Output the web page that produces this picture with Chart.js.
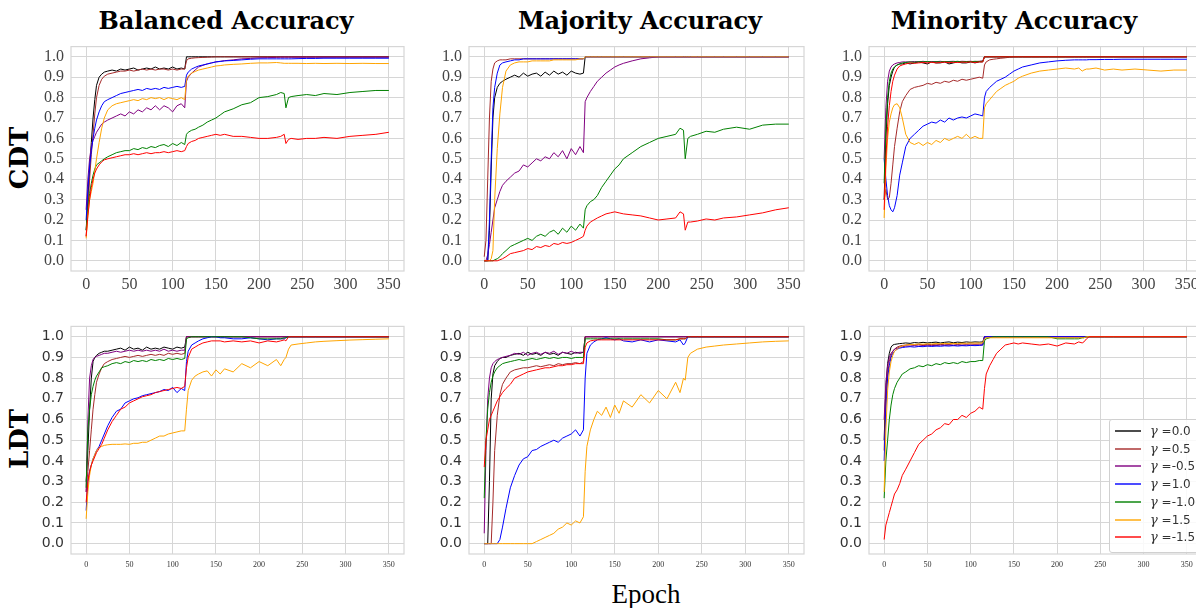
<!DOCTYPE html>
<html>
<head>
<meta charset="utf-8">
<script src="https://cdn.jsdelivr.net/npm/chart.js@4.4.0/dist/chart.umd.min.js"></script>
<style>
  html, body { margin: 0; padding: 0; background: #fff; }
  body { width: 1196px; height: 608px; position: relative; overflow: hidden; }
  canvas { position: absolute; }
  .title { position: absolute; top: 9px; width: 320px; text-align: center; font: bold 24px 'DejaVu Serif', serif; color: #000; line-height: 24px; white-space: nowrap; }
  .rowlab { position: absolute; width: 120px; text-align: center; font: bold 26px 'DejaVu Serif', serif; line-height: 26px; transform: rotate(-90deg); }
  .xlab { position: absolute; left: 546px; top: 581px; width: 200px; text-align: center; font: 27px 'Liberation Serif', serif; line-height: 27px; }
  #legend { position: absolute; left: 1109px; top: 419px; width: 100px; height: 132px; background: rgba(255,255,255,0.85); border: 1px solid #d0d0d0; border-radius: 3px; }
  #legend .item { position: absolute; left: 5px; height: 18px; width: 95px; }
  #legend .swatch { position: absolute; left: 0; top: 8px; width: 26px; height: 2px; opacity: 0.7; }
  #legend .txt { position: absolute; left: 35px; top: 1px; font: 12px 'DejaVu Sans', sans-serif; color: #333; white-space: nowrap; }
  #legend .txt i { font: italic 13px 'DejaVu Serif', serif; }
</style>
</head>
<body>
<div class="title" style="left:66px">Balanced Accuracy</div>
<div class="title" style="left:480px">Majority Accuracy</div>
<div class="title" style="left:854px">Minority Accuracy</div>
<div class="rowlab" style="left:-41px; top:145px">CDT</div>
<div class="rowlab" style="left:-41px; top:426px">LDT</div>
<div class="xlab">Epoch</div>

<canvas id="c1"></canvas>
<canvas id="c2"></canvas>
<canvas id="c3"></canvas>
<canvas id="c4"></canvas>
<canvas id="c5"></canvas>
<canvas id="c6"></canvas>
<div id="legend"></div>

<script>
const EPOCHS = [0, 2, 4, 6, 8, 10, 12, 15, 18, 21,
  25, 30, 35, 40, 45, 50, 55, 60, 65, 70, 75, 80, 85, 90, 95, 100, 105, 110, 114,
  116, 118, 122, 126, 130, 135, 140, 145, 150, 155, 160, 170, 180, 190, 200, 210, 220, 225, 229, 231,
  234, 237, 245, 255, 265, 275, 290, 305, 320, 335, 350];

const GAMMAS = ['0.0', '0.5', '-0.5', '1.0', '-1.0', '1.5', '-1.5'];
const COLORS = ['#000000', '#a52a2a', '#800080', '#0000ff', '#008000', '#ffa500', '#ff0000'];
const X_TICKS = [0, 50, 100, 150, 200, 250, 300, 350];
const Y_TICKS = [0, 0.1, 0.2, 0.3, 0.4, 0.5, 0.6, 0.7, 0.8, 0.9, 1.0];

// rows follow GAMMAS order
const cdtBalanced = [
  [0.15,0.30,0.45,0.58,0.70,0.79,0.86,0.90,0.915,0.925, 0.93,0.935,0.93,0.94,0.935,0.94,0.945,0.935,0.94,0.945,0.94,0.95,0.94,0.945,0.94,0.95,0.94,0.945,0.94,
   1,1,1,1,1,1,1,1,1,1, 1,1,1,1,1,1,1,1,1,1, 1,1,1,1,1,1,1,1,1,1, 1],
  [0.12,0.25,0.40,0.52,0.62,0.72,0.80,0.86,0.89,0.905, 0.915,0.92,0.925,0.93,0.93,0.935,0.93,0.935,0.94,0.935,0.94,0.935,0.94,0.94,0.935,0.94,0.935,0.94,0.94,
   0.98,0.99,0.993,0.995,0.996,0.997,0.998,0.999,1,1, 1,1,1,1,1,1,1,1,1,1, 1,1,1,1,1,1,1,1,1,1, 1],
  [0.25,0.40,0.50,0.56,0.59,0.61,0.63,0.65,0.67,0.68, 0.69,0.70,0.71,0.72,0.71,0.73,0.72,0.74,0.73,0.75,0.74,0.76,0.74,0.76,0.75,0.73,0.76,0.77,0.75,
   0.88,0.90,0.92,0.935,0.95,0.958,0.965,0.97,0.975,0.978, 0.981,0.985,0.99,0.992,0.995,0.996,0.997,0.998,0.998,0.998, 0.998,0.998,0.998,0.998,0.998,0.998,0.998,0.998,0.998,0.998, 0.998],
  [0.20,0.35,0.46,0.54,0.60,0.65,0.69,0.73,0.76,0.78, 0.79,0.80,0.81,0.82,0.825,0.83,0.835,0.84,0.835,0.845,0.84,0.845,0.84,0.85,0.845,0.85,0.855,0.85,0.855,
   0.91,0.925,0.94,0.948,0.955,0.96,0.965,0.97,0.975,0.977, 0.98,0.982,0.985,0.988,0.99,0.99,0.99,0.99,0.99,0.99, 0.99,0.99,0.991,0.992,0.992,0.993,0.993,0.993,0.993,0.993, 0.993],
  [0.15,0.25,0.33,0.38,0.42,0.45,0.47,0.48,0.49,0.50, 0.51,0.52,0.53,0.535,0.54,0.54,0.55,0.545,0.555,0.55,0.56,0.555,0.565,0.57,0.56,0.575,0.565,0.58,0.57,
   0.62,0.63,0.64,0.645,0.655,0.665,0.68,0.69,0.70,0.715, 0.73,0.745,0.765,0.775,0.80,0.805,0.815,0.825,0.82,0.75, 0.80,0.805,0.81,0.815,0.81,0.82,0.815,0.825,0.83,0.835, 0.835],
  [0.11,0.22,0.30,0.34,0.38,0.44,0.50,0.58,0.65,0.70, 0.74,0.76,0.77,0.775,0.78,0.785,0.79,0.785,0.795,0.79,0.80,0.795,0.80,0.79,0.80,0.795,0.79,0.80,0.79,
   0.89,0.905,0.92,0.928,0.935,0.94,0.945,0.95,0.955,0.957, 0.96,0.963,0.965,0.968,0.97,0.97,0.972,0.97,0.968,0.968, 0.968,0.968,0.968,0.967,0.968,0.967,0.968,0.967,0.968,0.967, 0.967],
  [0.12,0.22,0.30,0.36,0.40,0.43,0.45,0.47,0.485,0.495, 0.50,0.505,0.51,0.515,0.52,0.52,0.525,0.52,0.525,0.53,0.525,0.53,0.53,0.535,0.53,0.535,0.54,0.535,0.54,
   0.56,0.575,0.585,0.59,0.60,0.605,0.61,0.615,0.62,0.615, 0.62,0.61,0.61,0.605,0.60,0.60,0.605,0.61,0.62,0.575, 0.595,0.60,0.595,0.60,0.60,0.605,0.60,0.61,0.615,0.62, 0.63]
];

const cdtMajority = [
  [0,0,0,0.15,0.45,0.70,0.80,0.85,0.87,0.88, 0.89,0.90,0.91,0.90,0.92,0.905,0.915,0.92,0.905,0.925,0.91,0.93,0.915,0.925,0.91,0.93,0.92,0.915,0.92,
   1,1,1,1,1,1,1,1,1,1, 1,1,1,1,1,1,1,1,1,1, 1,1,1,1,1,1,1,1,1,1, 1],
  [0.02,0.10,0.40,0.70,0.88,0.94,0.97,0.98,0.985,0.985, 0.985,0.99,0.99,0.99,0.99,0.99,0.99,0.99,0.99,0.99,0.99,0.99,0.99,0.99,0.99,0.99,0.99,0.99,0.99,
   1,1,1,1,1,1,1,1,1,1, 1,1,1,1,1,1,1,1,1,1, 1,1,1,1,1,1,1,1,1,1, 1],
  [0,0,0.03,0.08,0.14,0.20,0.26,0.30,0.34,0.37, 0.39,0.41,0.43,0.44,0.47,0.46,0.48,0.50,0.49,0.51,0.50,0.53,0.51,0.54,0.50,0.55,0.52,0.56,0.53,
   0.78,0.80,0.83,0.855,0.88,0.90,0.92,0.935,0.95,0.96, 0.968,0.98,0.99,0.995,1,1,1,1,1,1, 1,1,1,1,1,1,1,1,1,1, 1],
  [0,0,0,0.20,0.50,0.75,0.85,0.92,0.96,0.97, 0.975,0.98,0.985,0.985,0.99,0.99,0.99,0.99,0.99,0.99,0.99,0.99,0.99,0.99,0.99,0.99,0.99,0.99,0.99,
   1,1,1,1,1,1,1,1,1,1, 1,1,1,1,1,1,1,1,1,1, 1,1,1,1,1,1,1,1,1,1, 1],
  [0,0,0,0,0,0,0.005,0.01,0.02,0.035, 0.05,0.07,0.08,0.09,0.10,0.11,0.10,0.12,0.13,0.12,0.14,0.15,0.13,0.16,0.14,0.17,0.15,0.18,0.16,
   0.25,0.27,0.29,0.30,0.32,0.36,0.39,0.42,0.45,0.47, 0.50,0.53,0.56,0.58,0.60,0.61,0.62,0.65,0.64,0.50, 0.60,0.61,0.62,0.635,0.63,0.645,0.655,0.645,0.665,0.67, 0.67],
  [0,0,0,0,0.01,0.05,0.30,0.55,0.72,0.85, 0.93,0.96,0.97,0.975,0.975,0.975,0.98,0.98,0.98,0.98,0.98,0.985,0.985,0.985,0.985,0.985,0.985,0.99,0.99,
   1,1,1,1,1,1,1,1,1,1, 1,1,1,1,1,1,1,1,1,1, 1,1,1,1,1,1,1,1,1,1, 1],
  [0,0,0,0,0,0,0,0,0.005,0.01, 0.02,0.035,0.04,0.045,0.05,0.06,0.055,0.07,0.065,0.075,0.07,0.085,0.08,0.09,0.085,0.09,0.10,0.11,0.12,
   0.15,0.17,0.19,0.20,0.21,0.22,0.23,0.235,0.24,0.235, 0.23,0.225,0.22,0.21,0.20,0.205,0.21,0.24,0.23,0.15, 0.19,0.19,0.195,0.205,0.20,0.21,0.215,0.225,0.235,0.25, 0.26]
];

const cdtMinority = [
  [0.30,0.60,0.77,0.86,0.90,0.93,0.95,0.96,0.965,0.965, 0.97,0.965,0.97,0.975,0.97,0.965,0.975,0.97,0.97,0.975,0.965,0.97,0.975,0.97,0.97,0.975,0.97,0.975,0.975,
   1,1,1,1,1,1,1,1,1,1, 1,1,1,1,1,1,1,1,1,1, 1,1,1,1,1,1,1,1,1,1, 1],
  [0.30,0.35,0.30,0.31,0.38,0.47,0.56,0.65,0.73,0.78, 0.81,0.84,0.85,0.855,0.86,0.87,0.865,0.875,0.87,0.88,0.875,0.885,0.88,0.89,0.885,0.89,0.895,0.90,0.895,
   0.96,0.975,0.985,0.988,0.99,0.993,0.995,0.998,1,1, 1,1,1,1,1,1,1,1,1,1, 1,1,1,1,1,1,1,1,1,1, 1],
  [0.50,0.75,0.88,0.93,0.95,0.96,0.965,0.97,0.972,0.975, 0.975,0.975,0.977,0.975,0.978,0.975,0.977,0.976,0.978,0.975,0.977,0.978,0.976,0.978,0.977,0.978,0.976,0.978,0.98,
   1,1,1,1,1,1,1,1,1,1, 1,1,1,1,1,1,1,1,1,1, 1,1,1,1,1,1,1,1,1,1, 1],
  [0.50,0.40,0.32,0.27,0.25,0.24,0.26,0.32,0.42,0.48, 0.56,0.60,0.62,0.64,0.66,0.67,0.68,0.675,0.69,0.68,0.70,0.69,0.70,0.705,0.70,0.71,0.72,0.715,0.71,
   0.80,0.83,0.85,0.865,0.88,0.89,0.90,0.915,0.93,0.94, 0.95,0.96,0.97,0.975,0.98,0.983,0.985,0.985,0.985,0.985, 0.985,0.986,0.986,0.987,0.987,0.988,0.988,0.988,0.988,0.988, 0.988],
  [0.38,0.65,0.80,0.88,0.92,0.94,0.95,0.96,0.965,0.97, 0.972,0.975,0.973,0.976,0.975,0.977,0.974,0.976,0.975,0.977,0.975,0.976,0.978,0.975,0.977,0.976,0.978,0.977,0.978,
   1,1,1,1,1,1,1,1,1,1, 1,1,1,1,1,1,1,1,1,1, 1,1,1,1,1,1,1,1,1,1, 1],
  [0.21,0.45,0.60,0.68,0.72,0.75,0.765,0.77,0.75,0.70, 0.62,0.58,0.57,0.58,0.565,0.58,0.57,0.59,0.58,0.60,0.59,0.60,0.61,0.60,0.62,0.60,0.61,0.60,0.60,
   0.75,0.77,0.79,0.81,0.83,0.845,0.86,0.87,0.88,0.895, 0.905,0.92,0.93,0.935,0.94,0.945,0.94,0.945,0.93,0.935, 0.94,0.94,0.945,0.935,0.94,0.935,0.94,0.935,0.93,0.935, 0.935],
  [0.25,0.50,0.66,0.76,0.83,0.88,0.91,0.94,0.955,0.96, 0.965,0.97,0.968,0.97,0.972,0.97,0.973,0.97,0.972,0.974,0.971,0.973,0.972,0.974,0.973,0.975,0.972,0.975,0.975,
   1,1,1,1,1,1,1,1,1,1, 1,1,1,1,1,1,1,1,1,1, 1,1,1,1,1,1,1,1,1,1, 1]
];

const ldtBalanced = [
  [0.30,0.45,0.65,0.80,0.88,0.90,0.91,0.92,0.925,0.93, 0.93,0.935,0.94,0.945,0.935,0.95,0.94,0.945,0.935,0.95,0.94,0.945,0.94,0.95,0.945,0.94,0.95,0.945,0.95,
   1,1,1,1,1,1,1,1,1,1, 1,1,1,1,1,1,1,1,1,1, 1,1,1,1,1,1,1,1,1,1, 1],
  [0.25,0.35,0.45,0.55,0.65,0.72,0.78,0.82,0.85,0.87, 0.88,0.89,0.895,0.90,0.905,0.90,0.905,0.91,0.905,0.91,0.915,0.91,0.915,0.91,0.92,0.915,0.92,0.915,0.92,
   1,1,1,1,1,1,1,1,1,1, 1,1,1,1,1,1,1,1,1,1, 1,1,1,1,1,1,1,1,1,1, 1],
  [0.25,0.60,0.80,0.86,0.89,0.90,0.905,0.91,0.915,0.92, 0.92,0.925,0.93,0.925,0.93,0.935,0.93,0.935,0.93,0.935,0.93,0.935,0.93,0.94,0.93,0.935,0.93,0.935,0.935,
   1,1,1,1,1,1,1,1,1,1, 1,1,1,1,1,1,1,1,1,1, 1,1,1,1,1,1,1,1,1,1, 1],
  [0.16,0.30,0.35,0.38,0.41,0.43,0.45,0.47,0.50,0.53, 0.57,0.61,0.64,0.65,0.68,0.69,0.70,0.705,0.715,0.72,0.725,0.73,0.735,0.745,0.74,0.755,0.73,0.75,0.74,
   0.88,0.93,0.96,0.97,0.98,0.99,0.995,1,1,0.995, 0.995,0.99,0.99,0.995,0.99,0.985,0.99,0.99,0.99,0.995, 1,1,1,1,1,1,1,1,1,1, 1],
  [0.27,0.55,0.65,0.72,0.76,0.79,0.81,0.83,0.85,0.855, 0.86,0.87,0.875,0.87,0.88,0.875,0.885,0.88,0.885,0.88,0.89,0.885,0.89,0.885,0.895,0.89,0.895,0.89,0.895,
   0.99,0.995,1,1,1,1,1,1,1,1, 1,1,1,0.995,0.99,0.99,0.99,0.99,0.995,0.995, 1,1,1,1,1,1,1,1,1,1, 1],
  [0.12,0.25,0.33,0.38,0.41,0.43,0.45,0.465,0.47,0.475, 0.478,0.48,0.48,0.48,0.482,0.48,0.485,0.485,0.49,0.49,0.50,0.51,0.52,0.52,0.53,0.535,0.54,0.545,0.545,
   0.65,0.74,0.79,0.81,0.82,0.83,0.835,0.81,0.84,0.82, 0.845,0.83,0.87,0.85,0.88,0.86,0.89,0.86,0.89,0.90, 0.94,0.96,0.965,0.97,0.975,0.978,0.981,0.984,0.986,0.988, 0.99],
  [0.20,0.30,0.35,0.38,0.40,0.42,0.44,0.46,0.48,0.51, 0.55,0.59,0.62,0.65,0.66,0.68,0.69,0.70,0.71,0.715,0.72,0.73,0.735,0.74,0.745,0.75,0.755,0.75,0.76,
   0.85,0.90,0.94,0.95,0.96,0.97,0.975,0.98,0.98,0.98, 0.975,0.98,0.975,0.98,0.97,0.98,0.975,0.98,0.985,0.98, 1,1,1,1,1,1,1,1,1,1, 1]
];

const ldtMajority = [
  [0,0,0,0.30,0.70,0.82,0.86,0.88,0.895,0.90, 0.90,0.91,0.915,0.92,0.91,0.925,0.915,0.92,0.91,0.925,0.915,0.92,0.91,0.925,0.92,0.915,0.925,0.92,0.925,
   1,1,1,1,1,1,1,1,1,1, 1,1,1,1,1,1,1,1,1,1, 1,1,1,1,1,1,1,1,1,1, 1],
  [0,0,0,0,0,0.20,0.45,0.62,0.72,0.77, 0.80,0.83,0.84,0.845,0.85,0.85,0.855,0.86,0.855,0.86,0.865,0.86,0.87,0.865,0.87,0.87,0.875,0.87,0.88,
   1,1,1,1,1,1,1,1,1,1, 1,1,1,1,1,1,1,1,1,1, 1,1,1,1,1,1,1,1,1,1, 1],
  [0.05,0.45,0.70,0.80,0.85,0.87,0.88,0.89,0.895,0.90, 0.905,0.91,0.92,0.915,0.925,0.91,0.92,0.925,0.915,0.925,0.92,0.93,0.915,0.925,0.92,0.93,0.92,0.925,0.925,
   1,1,1,1,1,1,1,1,1,1, 1,1,1,1,1,1,1,1,1,1, 1,1,1,1,1,1,1,1,1,1, 1],
  [0,0,0,0,0,0,0,0,0.02,0.08, 0.17,0.27,0.33,0.38,0.41,0.42,0.45,0.455,0.47,0.48,0.49,0.50,0.49,0.51,0.52,0.53,0.55,0.52,0.55,
   0.80,0.92,0.96,0.975,0.985,0.99,0.995,0.99,0.985,0.99, 0.98,0.975,0.985,0.975,0.985,0.98,0.975,0.985,0.96,0.97, 1,1,1,1,1,1,1,1,1,1, 1],
  [0.22,0.50,0.65,0.73,0.78,0.81,0.83,0.85,0.86,0.87, 0.875,0.88,0.885,0.89,0.885,0.89,0.895,0.89,0.895,0.90,0.895,0.90,0.895,0.90,0.90,0.895,0.90,0.90,0.90,
   0.99,0.99,0.99,0.99,0.99,0.99,0.99,0.99,0.99,0.99, 0.99,0.99,0.99,0.99,0.99,0.985,0.985,0.99,0.99,0.99, 1,1,1,1,1,1,1,1,1,1, 1],
  [0,0,0,0,0,0,0,0,0,0, 0,0,0,0,0,0,0,0.01,0.02,0.03,0.04,0.05,0.07,0.08,0.10,0.09,0.11,0.10,0.13,
   0.35,0.47,0.55,0.60,0.64,0.62,0.66,0.61,0.67,0.63, 0.69,0.66,0.72,0.68,0.74,0.70,0.78,0.73,0.80,0.79, 0.90,0.92,0.94,0.95,0.955,0.96,0.965,0.97,0.975,0.978, 0.98],
  [0.37,0.50,0.55,0.60,0.62,0.64,0.66,0.69,0.71,0.73, 0.75,0.77,0.80,0.81,0.82,0.83,0.835,0.84,0.845,0.85,0.85,0.855,0.86,0.86,0.865,0.865,0.87,0.87,0.87,
   0.95,0.97,0.98,0.983,0.985,0.985,0.985,0.985,0.985,0.985, 0.985,0.985,0.985,0.985,0.985,0.985,0.985,0.99,0.99,0.99, 1,1,1,1,1,1,1,1,1,1, 1]
];

const ldtMinority = [
  [0.50,0.75,0.87,0.92,0.95,0.96,0.963,0.965,0.967,0.968, 0.97,0.968,0.972,0.97,0.973,0.97,0.972,0.974,0.97,0.973,0.975,0.971,0.974,0.972,0.975,0.973,0.975,0.974,0.975,
   1,1,1,1,1,1,1,1,1,1, 1,1,1,1,1,1,1,1,1,1, 1,1,1,1,1,1,1,1,1,1, 1],
  [0.45,0.70,0.82,0.88,0.91,0.93,0.94,0.95,0.955,0.958, 0.96,0.962,0.96,0.963,0.961,0.963,0.962,0.964,0.962,0.964,0.963,0.965,0.963,0.965,0.964,0.965,0.964,0.965,0.965,
   1,1,1,1,1,1,1,1,1,1, 1,1,1,1,1,1,1,1,1,1, 1,1,1,1,1,1,1,1,1,1, 1],
  [0.60,0.78,0.86,0.90,0.92,0.93,0.94,0.945,0.95,0.952, 0.955,0.955,0.957,0.955,0.958,0.956,0.958,0.957,0.96,0.958,0.96,0.957,0.96,0.958,0.96,0.959,0.96,0.96,0.96,
   1,1,1,1,1,1,1,1,1,1, 1,1,1,1,1,1,1,1,1,1, 1,1,1,1,1,1,1,1,1,1, 1],
  [0.40,0.65,0.80,0.86,0.90,0.92,0.93,0.94,0.945,0.948, 0.95,0.952,0.95,0.953,0.952,0.955,0.953,0.955,0.954,0.956,0.955,0.957,0.955,0.957,0.956,0.958,0.957,0.958,0.96,
   1,1,1,1,1,1,1,1,1,1, 1,1,1,1,1,1,1,1,1,1, 1,1,1,1,1,1,1,1,1,1, 1],
  [0.22,0.40,0.50,0.60,0.67,0.72,0.75,0.78,0.80,0.82, 0.83,0.845,0.85,0.86,0.855,0.865,0.86,0.87,0.865,0.875,0.87,0.875,0.87,0.88,0.875,0.88,0.88,0.885,0.885,
   0.98,0.99,0.995,1,1,1,1,1,1,1, 1,1,1,1,0.99,0.99,0.99,0.99,0.995,0.995, 1,1,1,1,1,1,1,1,1,1, 1],
  [0.25,0.55,0.74,0.83,0.88,0.91,0.93,0.94,0.95,0.955, 0.96,0.962,0.963,0.965,0.964,0.966,0.965,0.967,0.966,0.968,0.967,0.968,0.967,0.969,0.968,0.97,0.969,0.97,0.97,
   0.99,0.995,0.995,0.995,0.995,0.995,0.995,0.995,0.995,0.995, 0.995,0.995,0.995,0.995,0.995,0.995,0.995,0.995,0.995,0.995, 1,1,1,1,1,1,1,1,1,1, 1],
  [0.02,0.09,0.12,0.15,0.18,0.21,0.24,0.26,0.29,0.33, 0.36,0.40,0.44,0.48,0.50,0.52,0.53,0.55,0.56,0.58,0.575,0.60,0.60,0.62,0.61,0.63,0.64,0.66,0.65,
   0.75,0.82,0.86,0.89,0.92,0.94,0.96,0.965,0.97,0.965, 0.97,0.965,0.96,0.965,0.955,0.97,0.965,0.975,0.97,0.975, 0.99,1,1,1,1,1,1,1,1,1, 1]
];

const GRID = '#d6d6d6';
const Y_AXIS_W = 62;
const X_AXIS_H = 26;
const PAD_TOP = 12;
const PAD_RIGHT = 6;

// plot-area box of each panel on the page: [left, top, right, bottom]
const panels = [
  { id: 'c1', series: cdtBalanced, box: [71, 42, 404, 271], row: 0 },
  { id: 'c2', series: cdtMajority, box: [469, 42, 804, 271], row: 0 },
  { id: 'c3', series: cdtMinority, box: [869, 42, 1202, 271], row: 0 },
  { id: 'c4', series: ldtBalanced, box: [71, 323, 404, 554], row: 1 },
  { id: 'c5', series: ldtMajority, box: [469, 323, 804, 554], row: 1 },
  { id: 'c6', series: ldtMinority, box: [869, 323, 1202, 554], row: 1 }
];

// top row uses serif ticks, bottom row sans y ticks and tiny serif x ticks
const tickStyle = [
  { x: { family: 'Liberation Serif', size: 16 }, y: { family: 'Liberation Serif', size: 16 }, color: '#444', xPad: 4 },
  { x: { family: 'Liberation Serif', size: 8 }, y: { family: 'DejaVu Sans', size: 14 }, color: '#333', xPad: 6 }
];

const framePlugin = {
  id: 'frame',
  beforeDatasetsDraw(chart) {
    const { ctx, chartArea: a } = chart;
    ctx.save();
    ctx.strokeStyle = GRID;
    ctx.lineWidth = 1.2;
    ctx.strokeRect(a.left, a.top, a.right - a.left, a.bottom - a.top);
    ctx.restore();
  }
};

const makePanel = (p) => {
  const [l, t, r, b] = p.box;
  const canvas = document.getElementById(p.id);
  const w = r - l + Y_AXIS_W + PAD_RIGHT;
  const h = b - t + PAD_TOP + X_AXIS_H;
  canvas.width = w;
  canvas.height = h;
  canvas.style.left = (l - Y_AXIS_W) + 'px';
  canvas.style.top = (t - PAD_TOP) + 'px';
  canvas.style.width = w + 'px';
  canvas.style.height = h + 'px';
  const st = tickStyle[p.row];

  return new Chart(canvas.getContext('2d'), {
    type: 'line',
    data: {
      datasets: p.series.map((vals, i) => ({
        label: 'γ =' + GAMMAS[i],
        data: vals.map((v, k) => ({ x: EPOCHS[k], y: v })),
        borderColor: COLORS[i],
        borderWidth: 1,
        pointRadius: 0,
        tension: 0,
        fill: false,
        order: p.series.length - i
      }))
    },
    options: {
      responsive: false,
      animation: false,
      devicePixelRatio: 1,
      layout: { padding: { top: PAD_TOP, right: PAD_RIGHT, left: 0, bottom: 0 } },
      plugins: { legend: { display: false }, tooltip: { enabled: false } },
      scales: {
        x: {
          type: 'linear',
          min: -17.5,
          max: 367.5,
          afterBuildTicks: (s) => { s.ticks = X_TICKS.map(v => ({ value: v })); },
          afterFit: (s) => { s.height = X_AXIS_H; },
          grid: { color: GRID, lineWidth: 1, drawTicks: false },
          border: { display: false },
          ticks: { font: st.x, color: st.color, padding: st.xPad, maxRotation: 0, autoSkip: false }
        },
        y: {
          min: -0.05,
          max: 1.05,
          afterBuildTicks: (s) => { s.ticks = Y_TICKS.map(v => ({ value: v })); },
          afterFit: (s) => { s.width = Y_AXIS_W; },
          grid: { color: GRID, lineWidth: 1, drawTicks: false },
          border: { display: false },
          ticks: { font: st.y, color: st.color, padding: 7, callback: (v) => v.toFixed(1) }
        }
      }
    },
    plugins: [framePlugin]
  });
};

panels.forEach(makePanel);

// legend sits inside the bottom-right panel
const legend = document.getElementById('legend');
GAMMAS.forEach((g, i) => {
  const item = document.createElement('div');
  item.className = 'item';
  item.style.top = (2 + i * 17.7) + 'px';
  item.innerHTML = `<div class="swatch" style="background:${COLORS[i]}"></div><div class="txt"><i>γ</i> =${g}</div>`;
  legend.appendChild(item);
});
</script>
</body>
</html>
